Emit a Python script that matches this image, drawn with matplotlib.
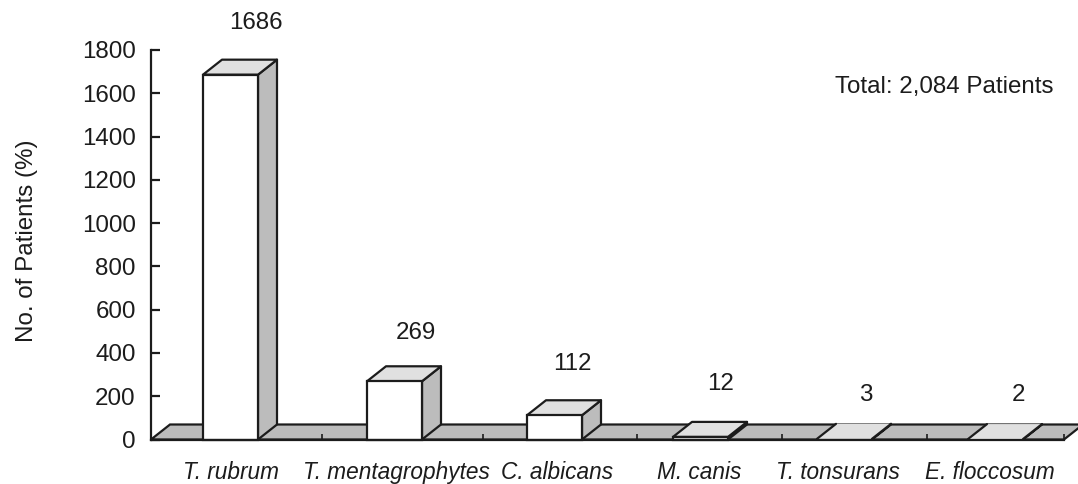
import matplotlib
matplotlib.use("Agg")
import matplotlib.pyplot as plt
from matplotlib.patches import Polygon

species = ["T. rubrum", "T. mentagrophytes", "C. albicans", "M. canis", "T. tonsurans", "E. floccosum"]
patients = [1686, 269, 112, 12, 3, 2]
y_ticks = [0, 200, 400, 600, 800, 1000, 1200, 1400, 1600, 1800]

# Horizontal layout, in pixels of the 1078-wide canvas
bar_left = [203, 367, 527, 673, 817, 968]
bar_width = 55
slot_edges = [151, 322, 483, 637, 782, 927, 1064]
label_x = [231, 396, 557, 699, 838, 990]
value_x = [256, 416, 572, 721, 866, 1018]
value_gap = [37, 33, 36, 38, 29, 29]

W, H = 1078, 484
X0, X1 = 151, 1064
Y_TOP, Y_ZERO = 50.0, 439.5
DX, DY_PX = 19, 15

plt.rcParams["font.family"] = ["Liberation Sans", "DejaVu Sans"]
FS = 17.4
FS_SPECIES = 16.3
INK = "#1c1c1c"
LW = 1.6
SIDE = "#bcbcbc"
TOP = "#e0e0e0"

fig = plt.figure(figsize=(W / 100, H / 100), dpi=100, facecolor="white")
ax = fig.add_axes([X0 / W, 1 - Y_ZERO / H, (X1 - X0) / W, (Y_ZERO - Y_TOP) / H])
ax.set_xlim(X0, X1)
ax.set_ylim(0, 1800)
ax.patch.set_visible(False)
for side in ("top", "right"):
    ax.spines[side].set_visible(False)
for side in ("left", "bottom"):
    ax.spines[side].set_color(INK)
    ax.spines[side].set_linewidth(LW)
    ax.spines[side].set_zorder(6)

ax.set_yticks(y_ticks)
ax.set_xticks(slot_edges)
ax.set_xticklabels([])
ax.tick_params(axis="y", direction="in", length=6.5, width=LW, color=INK,
               labelsize=FS, labelcolor=INK, pad=11)
ax.tick_params(axis="x", direction="in", length=4, width=1.2, color=INK)

unit = 1800 / (Y_ZERO - Y_TOP)
dy = DY_PX * unit

# Floor of the pseudo-3D plot
ax.add_patch(Polygon([(X0, 0), (X0 + DX, dy), (X1 + DX, dy), (X1, 0)], closed=True,
                     facecolor=SIDE, edgecolor=INK, linewidth=LW, zorder=1, clip_on=False))

# Bars: side face, top face and front face
for left, value in zip(bar_left, patients):
    right = left + bar_width
    ax.add_patch(Polygon([(right, 0), (right + DX, dy), (right + DX, value + dy), (right, value)],
                         closed=True, facecolor=SIDE, edgecolor=INK, linewidth=LW,
                         joinstyle="round", zorder=3, clip_on=False))
    ax.add_patch(Polygon([(left, value), (left + DX, value + dy), (right + DX, value + dy), (right, value)],
                         closed=True, facecolor=TOP, edgecolor=INK if value > 5 else "none",
                         linewidth=LW, joinstyle="round", zorder=4, clip_on=False))
    if value > 5:
        ax.add_patch(plt.Rectangle((left, 0), bar_width, value, facecolor="white", edgecolor=INK,
                                   linewidth=LW, zorder=5, clip_on=False))
    else:
        # Near-zero bars show only the slanted edges of their top face
        ax.plot([left, left + DX], [value, value + dy], color=INK, lw=LW, zorder=5,
                solid_capstyle="round", clip_on=False)
        ax.plot([right, right + DX], [value, value + dy], color=INK, lw=LW, zorder=5,
                solid_capstyle="round", clip_on=False)

# Value labels sit above the back edge of each top face
for x, value, gap in zip(value_x, patients, value_gap):
    ax.annotate(str(value), xy=(x, value + dy), xytext=(0, gap * 0.72), textcoords="offset points",
                ha="center", va="center", fontsize=FS, color=INK, annotation_clip=False)

# Species names below the axis
for x, name in zip(label_x, species):
    ax.annotate(name, xy=(x, 0), xytext=(0, -23.8), textcoords="offset points",
                ha="center", va="center", fontsize=FS_SPECIES, style="italic", color=INK,
                annotation_clip=False)

fig.text(27 / W, 1 - 241 / H, "No. of Patients (%)", rotation=90, ha="center", va="center",
         fontsize=FS, color=INK)
fig.text(835 / W, 1 - 87 / H, "Total: 2,084 Patients", ha="left", va="center",
         fontsize=FS, color=INK)

fig.savefig("out.png", dpi=100, facecolor="white")
